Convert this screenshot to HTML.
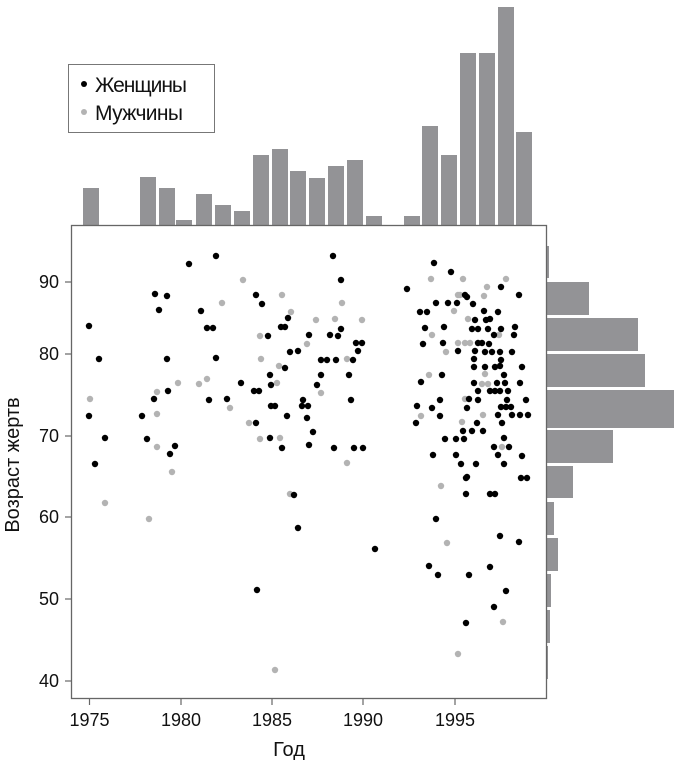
<!DOCTYPE html>
<html><head><meta charset="utf-8"><style>body{margin:0;background:#fff}svg{display:block}</style></head>
<body>
<svg width="680" height="762" xmlns="http://www.w3.org/2000/svg" font-family="Liberation Sans, DejaVu Sans, sans-serif">
<g fill="#939396" id="top">
<rect x="83" y="188" width="16" height="37"/>
<rect x="140" y="177" width="16" height="48"/>
<rect x="159" y="188" width="16" height="37"/>
<rect x="176" y="220" width="16" height="5"/>
<rect x="196" y="194" width="16" height="31"/>
<rect x="215" y="205" width="16" height="20"/>
<rect x="234" y="211" width="16" height="14"/>
<rect x="253" y="155" width="16" height="70"/>
<rect x="272" y="149" width="16" height="76"/>
<rect x="290" y="171" width="16" height="54"/>
<rect x="309" y="178" width="16" height="47"/>
<rect x="328" y="166" width="16" height="59"/>
<rect x="347" y="160" width="16" height="65"/>
<rect x="366" y="216" width="16" height="9"/>
<rect x="404" y="216" width="16" height="9"/>
<rect x="422" y="126" width="16" height="99"/>
<rect x="441" y="155" width="16" height="70"/>
<rect x="460" y="53" width="16" height="172"/>
<rect x="479" y="53" width="16" height="172"/>
<rect x="498" y="7" width="16" height="218"/>
<rect x="516" y="132" width="16" height="93"/>
</g>
<g fill="#939396">
<rect x="546" y="246" width="3" height="32"/>
<rect x="546" y="282" width="43" height="33"/>
<rect x="546" y="318" width="92" height="33"/>
<rect x="546" y="354" width="99" height="33"/>
<rect x="546" y="390" width="128" height="38"/>
<rect x="546" y="430" width="67" height="33"/>
<rect x="546" y="466" width="27" height="32"/>
<rect x="546" y="502" width="8" height="33"/>
<rect x="546" y="538" width="12" height="33"/>
<rect x="546" y="574" width="5" height="33"/>
<rect x="546" y="610" width="4" height="33"/>
<rect x="546" y="646" width="2" height="33"/>
</g>
<rect x="71.5" y="225.5" width="475" height="473" fill="none" stroke="#666" stroke-width="1.3"/>
<g stroke="#666" stroke-width="1.2">
<line x1="89.5" y1="699" x2="89.5" y2="705"/><line x1="181" y1="699" x2="181" y2="705"/><line x1="272" y1="699" x2="272" y2="705"/><line x1="363" y1="699" x2="363" y2="705"/><line x1="455" y1="699" x2="455" y2="705"/>
<line x1="65" y1="282" x2="71" y2="282"/><line x1="65" y1="354" x2="71" y2="354"/><line x1="65" y1="436" x2="71" y2="436"/><line x1="65" y1="517" x2="71" y2="517"/><line x1="65" y1="599" x2="71" y2="599"/><line x1="65" y1="681" x2="71" y2="681"/>
</g>
<g font-size="18" fill="#111" text-anchor="middle">
<text x="89.5" y="726">1975</text><text x="181" y="726">1980</text><text x="272" y="726">1985</text><text x="363" y="726">1990</text><text x="455" y="726">1995</text>
</g>
<g font-size="18" fill="#111" text-anchor="end">
<text x="59" y="288">90</text><text x="59" y="360">80</text><text x="59" y="442">70</text><text x="59" y="523">60</text><text x="59" y="605">50</text><text x="59" y="687">40</text>
</g>
<text x="289" y="756" font-size="20" text-anchor="middle" fill="#111">Год</text>
<text transform="translate(19,465) rotate(-90)" font-size="20" text-anchor="middle" fill="#111">Возраст жертв</text>
<rect x="68.5" y="64.5" width="146" height="68" fill="#fff" stroke="#777"/>
<circle cx="84" cy="84" r="3" fill="#000"/><circle cx="84" cy="112" r="3" fill="#b3b3b3"/>
<text x="95" y="92" font-size="21" fill="#111" textLength="92">Женщины</text>
<text x="95" y="120" font-size="21" fill="#111" textLength="88">Мужчины</text>
<g fill="#b3b3b3">
<circle cx="90" cy="399" r="3.2"/><circle cx="157" cy="392" r="3.2"/><circle cx="157" cy="414" r="3.2"/><circle cx="157" cy="447" r="3.2"/><circle cx="172" cy="472" r="3.2"/><circle cx="178" cy="383" r="3.2"/><circle cx="199" cy="384" r="3.2"/><circle cx="207" cy="379" r="3.2"/><circle cx="222" cy="303" r="3.2"/><circle cx="230" cy="408" r="3.2"/><circle cx="243" cy="280" r="3.2"/><circle cx="260" cy="336" r="3.2"/><circle cx="261" cy="359" r="3.2"/><circle cx="249" cy="423" r="3.2"/><circle cx="260" cy="439" r="3.2"/><circle cx="279" cy="366" r="3.2"/><circle cx="277" cy="383" r="3.2"/><circle cx="280" cy="438" r="3.2"/><circle cx="282" cy="295" r="3.2"/><circle cx="291" cy="312" r="3.2"/><circle cx="307" cy="344" r="3.2"/><circle cx="316" cy="320" r="3.2"/><circle cx="321" cy="393" r="3.2"/><circle cx="335" cy="319" r="3.2"/><circle cx="342" cy="303" r="3.2"/><circle cx="347" cy="359" r="3.2"/><circle cx="362" cy="320" r="3.2"/><circle cx="347" cy="463" r="3.2"/>
<circle cx="105" cy="503" r="3.2"/><circle cx="149" cy="519" r="3.2"/><circle cx="290" cy="494" r="3.2"/><circle cx="275" cy="670" r="3.2"/><circle cx="441" cy="486" r="3.2"/><circle cx="447" cy="543" r="3.2"/><circle cx="458" cy="654" r="3.2"/><circle cx="503" cy="622" r="3.2"/>
<circle cx="431" cy="279" r="3.2"/><circle cx="463" cy="279" r="3.2"/><circle cx="506" cy="279" r="3.2"/><circle cx="487" cy="287" r="3.2"/><circle cx="458" cy="295" r="3.2"/><circle cx="460" cy="295" r="3.2"/><circle cx="484" cy="296" r="3.2"/><circle cx="454" cy="311" r="3.2"/><circle cx="468" cy="319" r="3.2"/><circle cx="432" cy="335" r="3.2"/><circle cx="499" cy="335" r="3.2"/><circle cx="458" cy="343" r="3.2"/><circle cx="465" cy="343" r="3.2"/><circle cx="470" cy="343" r="3.2"/><circle cx="446" cy="352" r="3.2"/><circle cx="429" cy="375" r="3.2"/><circle cx="485" cy="374" r="3.2"/><circle cx="482" cy="384" r="3.2"/><circle cx="488" cy="384" r="3.2"/><circle cx="465" cy="399" r="3.2"/><circle cx="483" cy="415" r="3.2"/><circle cx="421" cy="416" r="3.2"/><circle cx="462" cy="422" r="3.2"/><circle cx="502" cy="447" r="3.2"/>
</g>
<g fill="#000">
<circle cx="89" cy="326" r="3.2"/><circle cx="99" cy="359" r="3.2"/><circle cx="89" cy="416" r="3.2"/><circle cx="105" cy="438" r="3.2"/><circle cx="95" cy="464" r="3.2"/><circle cx="155" cy="294" r="3.2"/><circle cx="167" cy="296" r="3.2"/><circle cx="159" cy="310" r="3.2"/><circle cx="167" cy="359" r="3.2"/><circle cx="154" cy="399" r="3.2"/><circle cx="168" cy="391" r="3.2"/><circle cx="142" cy="416" r="3.2"/><circle cx="147" cy="439" r="3.2"/><circle cx="175" cy="446" r="3.2"/><circle cx="170" cy="454" r="3.2"/><circle cx="189" cy="264" r="3.2"/><circle cx="216" cy="256" r="3.2"/><circle cx="201" cy="311" r="3.2"/><circle cx="207" cy="328" r="3.2"/><circle cx="213" cy="328" r="3.2"/><circle cx="216" cy="358" r="3.2"/><circle cx="209" cy="400" r="3.2"/><circle cx="227" cy="399" r="3.2"/><circle cx="241" cy="383" r="3.2"/><circle cx="256" cy="295" r="3.2"/><circle cx="262" cy="304" r="3.2"/><circle cx="268" cy="336" r="3.2"/><circle cx="254" cy="391" r="3.2"/><circle cx="259" cy="391" r="3.2"/><circle cx="270" cy="375" r="3.2"/><circle cx="271" cy="385" r="3.2"/><circle cx="256" cy="423" r="3.2"/><circle cx="270" cy="438" r="3.2"/><circle cx="282" cy="448" r="3.2"/><circle cx="288" cy="318" r="3.2"/><circle cx="281" cy="327" r="3.2"/><circle cx="285" cy="327" r="3.2"/><circle cx="290" cy="352" r="3.2"/><circle cx="298" cy="351" r="3.2"/><circle cx="285" cy="368" r="3.2"/><circle cx="271" cy="406" r="3.2"/><circle cx="275" cy="406" r="3.2"/><circle cx="287" cy="416" r="3.2"/><circle cx="303" cy="400" r="3.2"/><circle cx="302" cy="406" r="3.2"/><circle cx="308" cy="406" r="3.2"/><circle cx="307" cy="418" r="3.2"/><circle cx="313" cy="432" r="3.2"/><circle cx="309" cy="445" r="3.2"/><circle cx="309" cy="335" r="3.2"/><circle cx="321" cy="360" r="3.2"/><circle cx="327" cy="360" r="3.2"/><circle cx="321" cy="375" r="3.2"/><circle cx="317" cy="385" r="3.2"/><circle cx="333" cy="256" r="3.2"/><circle cx="341" cy="280" r="3.2"/><circle cx="341" cy="329" r="3.2"/><circle cx="330" cy="335" r="3.2"/><circle cx="338" cy="336" r="3.2"/><circle cx="336" cy="360" r="3.2"/><circle cx="349" cy="375" r="3.2"/><circle cx="351" cy="400" r="3.2"/><circle cx="353" cy="360" r="3.2"/><circle cx="356" cy="343" r="3.2"/><circle cx="362" cy="343" r="3.2"/><circle cx="358" cy="351" r="3.2"/><circle cx="334" cy="448" r="3.2"/><circle cx="354" cy="448" r="3.2"/><circle cx="363" cy="448" r="3.2"/>
<circle cx="294" cy="495" r="3.2"/><circle cx="298" cy="528" r="3.2"/><circle cx="257" cy="590" r="3.2"/><circle cx="375" cy="549" r="3.2"/><circle cx="436" cy="519" r="3.2"/><circle cx="429" cy="566" r="3.2"/><circle cx="438" cy="575" r="3.2"/><circle cx="466" cy="478" r="3.2"/><circle cx="466" cy="494" r="3.2"/><circle cx="490" cy="494" r="3.2"/><circle cx="495" cy="494" r="3.2"/><circle cx="469" cy="575" r="3.2"/><circle cx="490" cy="567" r="3.2"/><circle cx="500" cy="536" r="3.2"/><circle cx="506" cy="591" r="3.2"/><circle cx="494" cy="607" r="3.2"/><circle cx="466" cy="623" r="3.2"/><circle cx="519" cy="542" r="3.2"/><circle cx="521" cy="478" r="3.2"/><circle cx="527" cy="478" r="3.2"/>
<circle cx="434" cy="263" r="3.2"/><circle cx="451" cy="272" r="3.2"/><circle cx="407" cy="289" r="3.2"/><circle cx="501" cy="287" r="3.2"/><circle cx="519" cy="295" r="3.2"/><circle cx="465" cy="295" r="3.2"/><circle cx="467" cy="297" r="3.2"/><circle cx="436" cy="303" r="3.2"/><circle cx="448" cy="303" r="3.2"/><circle cx="457" cy="303" r="3.2"/><circle cx="473" cy="304" r="3.2"/><circle cx="420" cy="312" r="3.2"/><circle cx="427" cy="312" r="3.2"/><circle cx="484" cy="311" r="3.2"/><circle cx="498" cy="312" r="3.2"/><circle cx="475" cy="320" r="3.2"/><circle cx="486" cy="320" r="3.2"/><circle cx="490" cy="319" r="3.2"/><circle cx="425" cy="328" r="3.2"/><circle cx="444" cy="327" r="3.2"/><circle cx="472" cy="329" r="3.2"/><circle cx="478" cy="329" r="3.2"/><circle cx="488" cy="329" r="3.2"/><circle cx="501" cy="329" r="3.2"/><circle cx="515" cy="327" r="3.2"/><circle cx="494" cy="335" r="3.2"/><circle cx="514" cy="335" r="3.2"/><circle cx="423" cy="344" r="3.2"/><circle cx="443" cy="343" r="3.2"/><circle cx="478" cy="343" r="3.2"/><circle cx="482" cy="343" r="3.2"/><circle cx="489" cy="344" r="3.2"/><circle cx="458" cy="351" r="3.2"/><circle cx="475" cy="351" r="3.2"/><circle cx="485" cy="352" r="3.2"/><circle cx="492" cy="352" r="3.2"/><circle cx="500" cy="352" r="3.2"/><circle cx="512" cy="352" r="3.2"/><circle cx="474" cy="359" r="3.2"/><circle cx="501" cy="360" r="3.2"/><circle cx="474" cy="367" r="3.2"/><circle cx="485" cy="367" r="3.2"/><circle cx="495" cy="367" r="3.2"/><circle cx="500" cy="366" r="3.2"/><circle cx="522" cy="367" r="3.2"/><circle cx="442" cy="375" r="3.2"/><circle cx="504" cy="375" r="3.2"/><circle cx="421" cy="382" r="3.2"/><circle cx="474" cy="383" r="3.2"/><circle cx="497" cy="383" r="3.2"/><circle cx="505" cy="383" r="3.2"/><circle cx="520" cy="383" r="3.2"/><circle cx="478" cy="391" r="3.2"/><circle cx="490" cy="391" r="3.2"/><circle cx="495" cy="391" r="3.2"/><circle cx="500" cy="391" r="3.2"/><circle cx="508" cy="391" r="3.2"/><circle cx="440" cy="400" r="3.2"/><circle cx="469" cy="399" r="3.2"/><circle cx="478" cy="400" r="3.2"/><circle cx="507" cy="400" r="3.2"/><circle cx="526" cy="400" r="3.2"/><circle cx="417" cy="406" r="3.2"/><circle cx="432" cy="408" r="3.2"/><circle cx="467" cy="408" r="3.2"/><circle cx="501" cy="407" r="3.2"/><circle cx="506" cy="407" r="3.2"/><circle cx="511" cy="407" r="3.2"/><circle cx="440" cy="416" r="3.2"/><circle cx="498" cy="415" r="3.2"/><circle cx="512" cy="415" r="3.2"/><circle cx="520" cy="415" r="3.2"/><circle cx="528" cy="415" r="3.2"/><circle cx="416" cy="423" r="3.2"/><circle cx="477" cy="423" r="3.2"/><circle cx="502" cy="423" r="3.2"/><circle cx="463" cy="431" r="3.2"/><circle cx="472" cy="431" r="3.2"/><circle cx="483" cy="431" r="3.2"/><circle cx="445" cy="439" r="3.2"/><circle cx="456" cy="439" r="3.2"/><circle cx="464" cy="439" r="3.2"/><circle cx="504" cy="438" r="3.2"/><circle cx="494" cy="447" r="3.2"/><circle cx="509" cy="447" r="3.2"/><circle cx="433" cy="455" r="3.2"/><circle cx="456" cy="455" r="3.2"/><circle cx="498" cy="455" r="3.2"/><circle cx="522" cy="456" r="3.2"/><circle cx="461" cy="464" r="3.2"/><circle cx="476" cy="464" r="3.2"/><circle cx="504" cy="464" r="3.2"/><circle cx="467" cy="477" r="3.2"/>
</g>
</svg>
</body></html>
